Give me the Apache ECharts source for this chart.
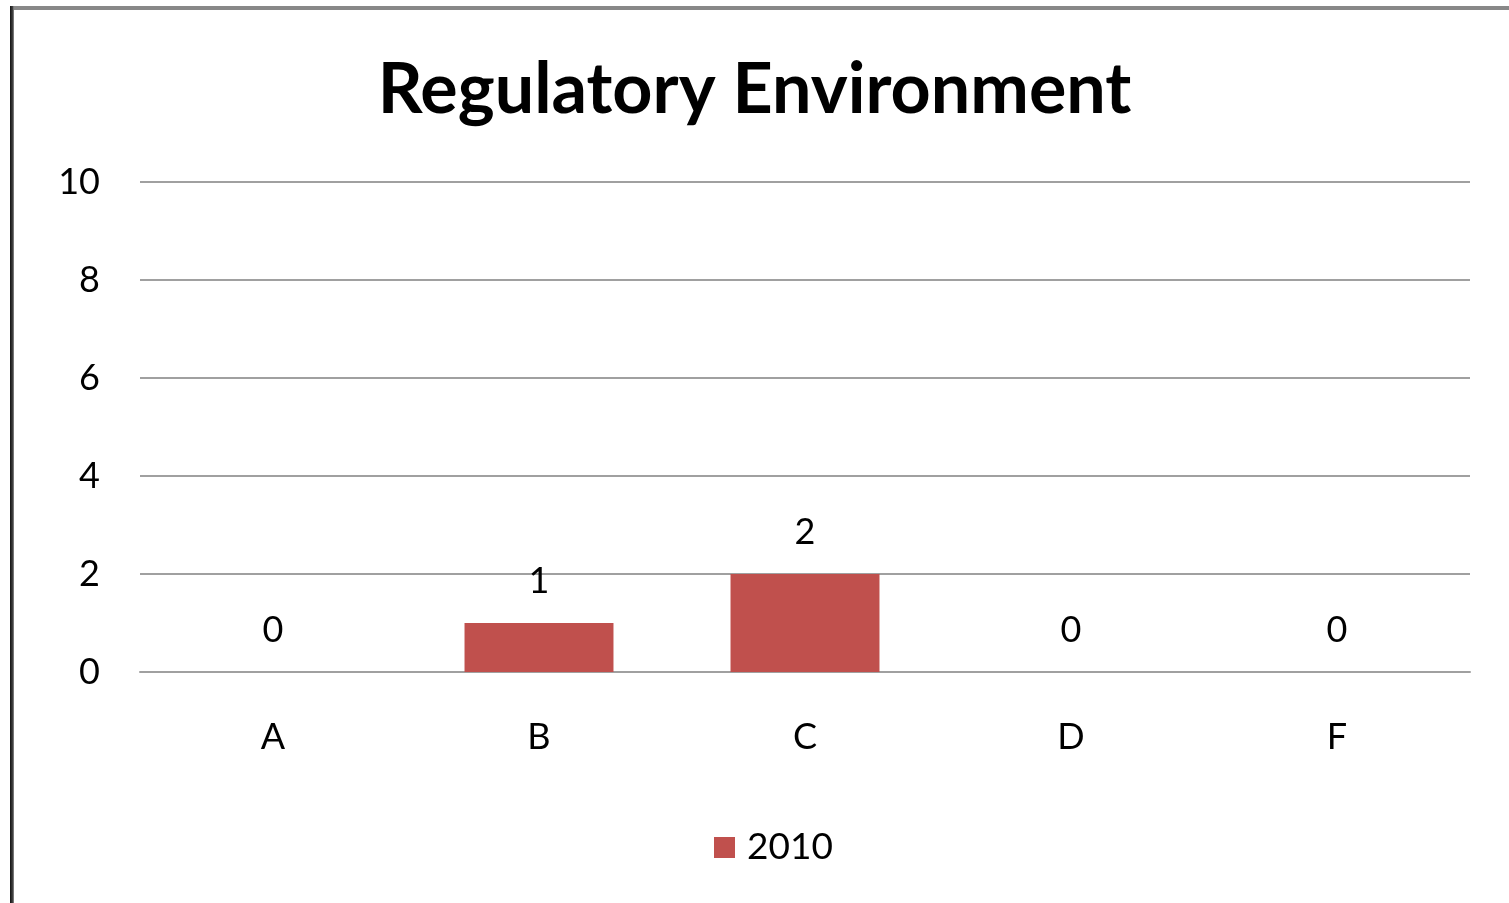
<!DOCTYPE html>
<html>
<head>
<meta charset="utf-8">
<script src="https://cdn.jsdelivr.net/npm/echarts@6/dist/echarts.min.js"></script>
<style>
  html, body {margin: 0; padding: 0; background: #fff;}
  #chart {width: 1509px; height: 903px;}
  .frame-top {position: absolute; left: 10px; top: 6px; right: 0; height: 4px; background: #888;}
  .frame-left {position: absolute; left: 10px; top: 6px; bottom: 0; width: 4px; background: linear-gradient(to right, #111, #444 70%, #999);}
</style>
</head>
<body>
<div id="chart"></div>
<div class="frame-top"></div>
<div class="frame-left"></div>
<script>
const categories = ['A', 'B', 'C', 'D', 'F'];
const values2010 = [0, 1, 2, 0, 0];
const seriesName = '2010';
const titleText = 'Regulatory Environment';

const font = 'Lato, "Open Sans", sans-serif';
const chart = echarts.init(document.getElementById('chart'));
chart.setOption({
  animation: false,
  title: {
    text: titleText,
    left: 'center',
    top: 50,
    textStyle: {fontFamily: font, fontSize: 70, fontWeight: 'bold', color: '#000'}
  },
  legend: {
    data: [seriesName],
    bottom: 32,
    left: 709,
    icon: 'rect',
    itemWidth: 21,
    itemHeight: 21,
    textStyle: {fontFamily: font, fontSize: 37, color: '#000', padding: [0, 0, 0, 7]}
  },
  grid: {left: 140, right: 39, top: 182, bottom: 231, containLabel: false},
  xAxis: {
    type: 'category',
    data: categories,
    axisTick: {show: false},
    axisLine: {lineStyle: {color: '#a0a0a0', width: 2}},
    axisLabel: {margin: 47, fontFamily: font, fontSize: 36, color: '#000'}
  },
  yAxis: {
    type: 'value',
    min: 0,
    max: 10,
    interval: 2,
    axisLine: {show: false},
    axisTick: {show: false},
    splitLine: {lineStyle: {color: '#a0a0a0', width: 2}},
    axisLabel: {margin: 40, fontFamily: font, fontSize: 36, color: '#000'}
  },
  series: [{
    name: seriesName,
    type: 'bar',
    data: values2010,
    barWidth: '56%',
    itemStyle: {color: '#C0504D'},
    label: {
      show: true,
      position: 'top',
      distance: 24,
      fontFamily: font,
      fontSize: 36,
      color: '#000'
    }
  }]
});
</script>
</body>
</html>
